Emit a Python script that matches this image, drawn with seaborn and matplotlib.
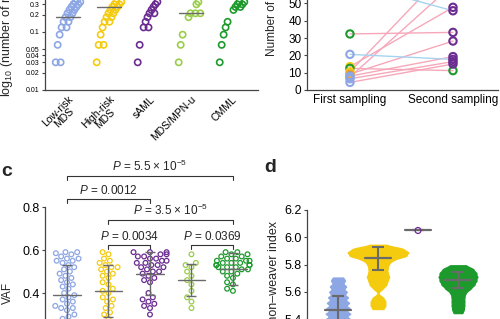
import numpy as np
import pandas as pd
import matplotlib
matplotlib.use("Agg")
import matplotlib.pyplot as plt
import seaborn as sns

W, H = 500, 319

sns.set_style("ticks")
plt.rcParams["font.family"] = ["Liberation Sans", "DejaVu Sans"]
plt.rcParams["mathtext.fontset"] = "custom"
plt.rcParams["mathtext.rm"] = "Liberation Sans"
plt.rcParams["mathtext.it"] = "Liberation Sans:italic"
plt.rcParams["axes.edgecolor"] = "#444444"
plt.rcParams["axes.linewidth"] = 0.9
plt.rcParams["xtick.color"] = "#444444"
plt.rcParams["ytick.color"] = "#444444"
plt.rcParams["xtick.labelcolor"] = "black"
plt.rcParams["ytick.labelcolor"] = "black"

# colours per disease group
C_LOW = "#8da6e4"
C_HIGH = "#f5cb10"
C_SAML = "#6b2c91"
C_MPN = "#9acd4a"
C_CMML = "#1d9a2c"
C_ORANGE = "#f0a030"
GREY = "#6a6a6a"
PINK = "#f6a8ba"
SKY = "#a6d4f0"

groups = ["Low-risk MDS", "High-risk MDS", "sAML", "MDS/MPN-u", "CMML"]
group_ticks = ["Low-risk\nMDS", "High-risk\nMDS", "sAML", "MDS/MPN-u", "CMML"]
group_colors = [C_LOW, C_HIGH, C_SAML, C_MPN, C_CMML]

# ---- panel a: mutation burden (log scale), visible low tail only
mut_low = [0.03, 0.03, 0.06, 0.09, 0.12, 0.12, 0.15, 0.15, 0.18, 0.18, 0.21, 0.21,
           0.24, 0.24, 0.27, 0.27, 0.30, 0.30, 0.33, 0.33, 0.36]
mut_high = [0.03, 0.06, 0.06, 0.09, 0.12, 0.15, 0.15, 0.18, 0.18, 0.21, 0.21, 0.24,
            0.24, 0.27, 0.27, 0.30, 0.30, 0.33, 0.33]
mut_saml = [0.03, 0.06, 0.12, 0.12, 0.15, 0.18, 0.21, 0.21, 0.24, 0.27, 0.30, 0.33]
mut_mpn = [0.03, 0.06, 0.09, 0.18, 0.21, 0.21, 0.21, 0.30, 0.33]
mut_cmml = [0.03, 0.06, 0.09, 0.12, 0.15, 0.24, 0.27, 0.27, 0.30, 0.30, 0.33, 0.33]
mut_medians = [0.18, 0.27, 0.45, 0.21, 0.50]
mut_yticks = [0.01, 0.02, 0.03, 0.04, 0.05, 0.1, 0.2, 0.3]

# ---- panel b: paired samplings
first_vals = [32.4, 20.6, 62.0, 13.5, 12.5, 10.5, 9.2, 8.0, 7.5, 6.5, 4.4]
second_vals = [33.3, 17.7, 45.8, 47.8, 11.2, 73.0, 28.3, 19.3, 61.0, 16.4, 15.0]
first_groups = ["CMML", "Low-risk MDS", "Low-risk MDS", "High-risk MDS", "CMML",
                "High-risk MDS", "other", "Low-risk MDS", "Low-risk MDS",
                "Low-risk MDS", "Low-risk MDS"]
second_groups = ["sAML", "sAML", "sAML", "sAML", "CMML", "sAML", "sAML", "sAML",
                 "sAML", "sAML", "sAML"]
sampling_labels = ["First sampling", "Second sampling"]

# ---- panel c: VAF
vaf_low = [0.59, 0.59, 0.585, 0.58, 0.57, 0.56, 0.56, 0.55, 0.55, 0.54, 0.53, 0.52,
           0.51, 0.50, 0.49, 0.48, 0.47, 0.46, 0.45, 0.44, 0.43, 0.42, 0.40, 0.39,
           0.38, 0.37, 0.36, 0.35, 0.34, 0.33, 0.33, 0.32, 0.30, 0.29, 0.28, 0.26,
           0.24, 0.22, 0.20, 0.18, 0.15, 0.12, 0.10]
vaf_high = [0.59, 0.58, 0.56, 0.55, 0.54, 0.53, 0.52, 0.52, 0.51, 0.50, 0.49, 0.48,
            0.47, 0.45, 0.44, 0.42, 0.41, 0.40, 0.38, 0.37, 0.36, 0.34, 0.33, 0.31,
            0.30, 0.28, 0.26, 0.25, 0.22, 0.20]
vaf_saml = [0.59, 0.59, 0.59, 0.58, 0.58, 0.57, 0.57, 0.56, 0.56, 0.55, 0.55, 0.54,
            0.54, 0.53, 0.53, 0.52, 0.52, 0.51, 0.50, 0.50, 0.49, 0.48, 0.47, 0.46,
            0.45, 0.40, 0.38, 0.37, 0.36, 0.35, 0.34, 0.33, 0.30, 0.22]
vaf_mpn = [0.58, 0.54, 0.53, 0.52, 0.50, 0.48, 0.46, 0.44, 0.41, 0.38, 0.36, 0.33]
vaf_cmml = [0.59, 0.59, 0.58, 0.58, 0.57, 0.57, 0.56, 0.56, 0.55, 0.55, 0.55, 0.54,
            0.54, 0.54, 0.53, 0.53, 0.53, 0.53, 0.52, 0.52, 0.52, 0.51, 0.51, 0.50,
            0.50, 0.49, 0.48, 0.47, 0.45, 0.44, 0.42, 0.41]
vaf_means = [0.39, 0.41, 0.49, 0.46, 0.51]
vaf_sds = [0.14, 0.12, 0.10, 0.075, 0.075]
comparisons = [(0, 4, r"$P$ = 5.5 × 10$^{-5}$", 0.944),
               (0, 2, r"$P$ = 0.0012", 0.837),
               (1, 4, r"$P$ = 3.5 × 10$^{-5}$", 0.740),
               (1, 2, r"$P$ = 0.0034", 0.623),
               (3, 4, r"$P$ = 0.0369", 0.623)]

sw_low_levels = [5.20, 5.24, 5.28, 5.32, 5.36, 5.40, 5.44, 5.48, 5.52, 5.56, 5.60, 5.64, 5.68, 5.71]
sw_low_counts = [22, 22, 22, 22, 22, 22, 22, 21, 20, 18, 16, 15, 12, 8]
sw_high_levels = [5.47, 5.50, 5.53, 5.56, 5.62, 5.65, 5.68, 5.71, 5.74, 5.77, 5.80,
                  5.83, 5.86, 5.89, 5.92, 5.95]
sw_high_counts = [12, 16, 16, 12, 10, 18, 20, 24, 20, 20, 22, 30, 58, 62, 52, 14]
sw_cmml_levels = [5.44, 5.47, 5.50, 5.53, 5.56, 5.59, 5.62, 5.65, 5.68, 5.71, 5.74, 5.77, 5.80]
sw_cmml_counts = [10, 13, 14, 14, 14, 16, 26, 34, 38, 40, 38, 32, 16]
sw_saml = [6.05]
sw_means = [5.467, 5.846, 6.05, 5.687]
sw_sds = [0.105, 0.085, 0.0, 0.057]


fig = plt.figure(figsize=(W / 100, H / 100), dpi=100)


def px_axes(x0, y0, x1, y1):
    return fig.add_axes([x0 / W, 1 - y1 / H, (x1 - x0) / W, (y1 - y0) / H])


def open_markers(ax):
    for coll in ax.collections:
        fc = coll.get_facecolors()
        if len(fc):
            coll.set_edgecolors(fc)
            coll.set_facecolor("none")


# ================= panel a
ax = px_axes(45, -26, 258, 90)
rows = []
for i, vals in enumerate([mut_low, mut_high, mut_saml, mut_mpn, mut_cmml]):
    seen = {}
    for v in sorted(vals):
        k = seen.get(v, 0)
        seen[v] = k + 1
        # points drift rightwards with value, ties placed side by side
        rows.append({"x": i - 0.30 + 1.6 * (v - 0.03) + 0.12 * k, "y": v, "group": groups[i]})
df_a = pd.DataFrame(rows)
sns.scatterplot(data=df_a, x="x", y="y", hue="group", palette=group_colors,
                hue_order=groups, s=20, linewidth=1.2, legend=False, ax=ax, clip_on=False)
open_markers(ax)
for i, m in enumerate(mut_medians):
    ax.plot([i - 0.29, i + 0.29], [m, m], color=GREY, lw=1.0, zorder=5)
ax.set_yscale("log")
ax.set_ylim(0.01, 1)
ax.set_xlim(-0.561, 4.634)
ax.set_yticks(mut_yticks)
ax.set_yticklabels([str(t) for t in mut_yticks], fontsize=5)
ax.minorticks_off()
ax.tick_params(axis="y", length=2.5, width=0.8, pad=1.5)
ax.set_xticks(range(5))
ax.set_xticklabels(group_ticks, rotation=45, ha="right", rotation_mode="anchor",
                   fontsize=7.5, multialignment="center", linespacing=0.95)
ax.tick_params(axis="x", length=0, pad=3)
ax.set_xlabel("")
ax.set_ylabel(r"log$_{10}$ (number of mutations)", fontsize=9)
ax.yaxis.set_label_coords(-0.14, 0.60)
sns.despine(ax=ax)

# ================= panel b
ax = px_axes(307, -48.4, 498, 90)
n = len(first_vals)
df_b = pd.DataFrame({
    "patient": list(range(n)) * 2,
    "sampling": [0] * n + [1] * n,
    "value": first_vals + second_vals,
    "group": first_groups + second_groups,
})
df_b["trend"] = ["down" if s < f else "up" for f, s in zip(first_vals, second_vals)] * 2
df_b.loc[(df_b["patient"] == 4), "trend"] = "up"
sns.lineplot(data=df_b, x="sampling", y="value", units="patient", estimator=None,
             hue="trend", palette={"up": PINK, "down": SKY}, lw=1.0, legend=False, ax=ax)
sns.scatterplot(data=df_b, x="sampling", y="value", hue="group",
                palette={"Low-risk MDS": C_LOW, "High-risk MDS": C_HIGH, "sAML": C_SAML,
                         "CMML": C_CMML, "other": C_ORANGE},
                s=28, linewidth=1.5, legend=False, ax=ax, zorder=5)
open_markers(ax)
ax.set_ylim(0, 80)
ax.set_xlim(-0.417, 1.437)
ax.set_yticks(range(0, 81, 10))
ax.tick_params(axis="y", labelsize=8.5, length=2.5, width=0.8, pad=1.5)
ax.set_xticks([0, 1])
ax.set_xticklabels(sampling_labels, fontsize=8.5)
ax.tick_params(axis="x", length=0, pad=3)
ax.set_xlabel("")
ax.set_ylabel("Number of mutations", fontsize=8.5)
ax.yaxis.set_label_coords(-0.15, 0.645)
sns.despine(ax=ax)

# ================= panel c
ax = px_axes(45, 207, 262, 379)
df_c = pd.DataFrame({
    "group": [groups[0]] * len(vaf_low) + [groups[1]] * len(vaf_high)
    + [groups[2]] * len(vaf_saml) + [groups[3]] * len(vaf_mpn) + [groups[4]] * len(vaf_cmml),
    "vaf": vaf_low + vaf_high + vaf_saml + vaf_mpn + vaf_cmml,
})
sns.swarmplot(data=df_c, x="group", y="vaf", hue="group", order=groups, hue_order=groups,
              palette=group_colors, size=3.4, linewidth=0.9, legend=False, ax=ax)
open_markers(ax)
ax.errorbar(range(5), vaf_means, yerr=vaf_sds, fmt="none", ecolor=GREY,
            elinewidth=1.0, capsize=3.5, capthick=1.0, zorder=6)
for i, m in enumerate(vaf_means):
    ax.plot([i - 0.33, i + 0.33], [m, m], color=GREY, lw=1.0, zorder=6)
for i, j, label, h in comparisons:
    ax.plot([i, i, j, j], [h - 0.018, h, h, h - 0.018], color="#333333", lw=0.8, clip_on=False)
    ax.text((i + j) / 2, h + 0.01, label, ha="center", va="bottom", fontsize=8.5)
ax.set_ylim(0, 0.8)
ax.set_xlim(-0.53, 4.7)
ax.set_yticks([0, 0.2, 0.4, 0.6, 0.8])
ax.set_yticklabels(["0", "0.2", "0.4", "0.6", "0.8"])
ax.tick_params(axis="y", labelsize=9, length=2.5, width=0.8, pad=1.5)
ax.set_xlabel("")
ax.set_xticks([])
ax.set_ylabel("VAF", fontsize=8.5)
ax.yaxis.set_label_coords(-0.145, 0.5)
sns.despine(ax=ax)

# ================= panel d
ax = px_axes(307, 210, 510, 346.5)
profiles = [(0, sw_low_levels, sw_low_counts, C_LOW, 0.65),
            (1, sw_high_levels, sw_high_counts, C_HIGH, 1.55),
            (3, sw_cmml_levels, sw_cmml_counts, C_CMML, 1.0)]
for pos, levels, counts, col, wd in profiles:
    sample = np.repeat(levels, counts)
    sns.violinplot(x=np.full(len(sample), pos), y=sample, native_scale=True, width=wd,
                   color=col, linewidth=0, inner=None, cut=0,
                   bw_method=0.015 / np.std(sample), saturation=1, ax=ax)
sns.scatterplot(x=[2] * len(sw_saml), y=sw_saml, color=C_SAML, s=18, linewidth=0.9,
                legend=False, ax=ax, zorder=7)
ax.collections[-1].set_edgecolor(C_SAML)
ax.collections[-1].set_facecolor("none")
ax.errorbar([0, 1, 2, 3], sw_means, yerr=sw_sds, fmt="none", ecolor=GREY,
            elinewidth=1.5, capsize=4.3, capthick=1.5, zorder=6)
for i, m in enumerate(sw_means):
    ax.plot([i - 0.32, i + 0.32], [m, m], color=GREY, lw=1.6, zorder=6)
ax.set_ylim(5.2, 6.2)
ax.set_xlim(-0.775, 4.3)
ax.set_yticks([5.2, 5.4, 5.6, 5.8, 6.0, 6.2])
ax.set_yticklabels(["5.2", "5.4", "5.6", "5.8", "6.0", "6.2"])
ax.tick_params(axis="y", labelsize=9, length=2.5, width=0.8, pad=1.5)
ax.set_xticks([])
ax.set_xlabel("")
ax.set_ylabel("Shannon\u2013weaver index", fontsize=9)
ax.yaxis.set_label_coords(-0.133, 0.44)
sns.despine(ax=ax)

fig.text(7 / W, 1 - 172 / H, "c", fontsize=14, fontweight="bold", ha="center", va="center")
fig.text(270 / W, 1 - 168 / H, "d", fontsize=14, fontweight="bold", ha="center", va="center")

fig.savefig("out.png", dpi=100)
